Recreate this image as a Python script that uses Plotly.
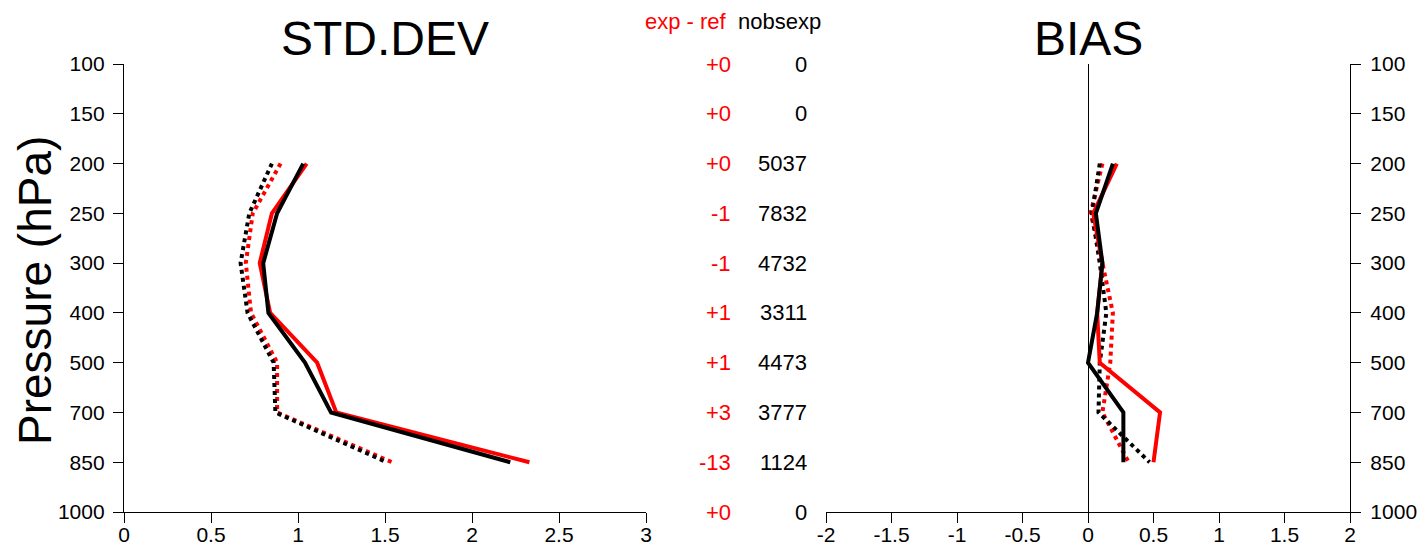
import plotly.graph_objects as go

levels = ["100", "150", "200", "250", "300", "400", "500", "700", "850", "1000"]
lev_idx = list(range(len(levels)))
plot_levels = ["200", "250", "300", "400", "500", "700", "850"]

std_exp = [1.05, 0.85, 0.78, 0.84, 1.11, 1.22, 2.33]
std_ref = [1.03, 0.88, 0.80, 0.83, 1.04, 1.19, 2.22]
std_exp_dot = [0.90, 0.74, 0.70, 0.73, 0.88, 0.88, 1.54]
std_ref_dot = [0.85, 0.72, 0.67, 0.71, 0.86, 0.87, 1.51]

bias_exp = [0.22, 0.04, 0.11, 0.07, 0.09, 0.55, 0.50]
bias_ref = [0.19, 0.06, 0.11, 0.07, 0.00, 0.27, 0.27]
bias_exp_dot = [0.11, 0.02, 0.11, 0.19, 0.17, 0.11, 0.31]
bias_ref_dot = [0.09, 0.03, 0.09, 0.14, 0.09, 0.08, 0.47]

diff_labels = ["+0", "+0", "+0", "-1", "-1", "+1", "+1", "+3", "-13", "+0"]
nobs_labels = ["0", "0", "5037", "7832", "4732", "3311", "4473", "3777", "1124", "0"]

std_ticks = [0, 0.5, 1, 1.5, 2, 2.5, 3]
std_ticktext = ["0", "0.5", "1", "1.5", "2", "2.5", "3"]
bias_ticks = [-2, -1.5, -1, -0.5, 0, 0.5, 1, 1.5, 2]
bias_ticktext = ["-2", "-1.5", "-1", "-0.5", "0", "0.5", "1", "1.5", "2"]

FONT = "Liberation Sans, Arial, Helvetica, sans-serif"
W, H = 1418, 545
ML, MR, MT, MB = 124, 68, 64, 33
PW = W - ML - MR
PH = H - MT - MB

def px2paper_x(px):
    return (px - ML) / PW

def px2paper_y(py):
    return 1 - (py - MT) / PH

ypos = [levels.index(l) for l in plot_levels]

fig = go.Figure()

def add(x, color, dash, xa, ya):
    fig.add_trace(go.Scatter(x=x, y=ypos, mode="lines", xaxis=xa, yaxis=ya,
                             line=dict(color=color, width=4, dash=dash),
                             showlegend=False, hoverinfo="skip"))

add(std_exp_dot, "red", "dot", "x", "y")
add(std_ref_dot, "black", "dot", "x", "y")
add(std_exp, "red", "solid", "x", "y")
add(std_ref, "black", "solid", "x", "y")

add(bias_exp_dot, "red", "dot", "x2", "y2")
add(bias_ref_dot, "black", "dot", "x2", "y2")
add(bias_exp, "red", "solid", "x2", "y2")
add(bias_ref, "black", "solid", "x2", "y2")

axis_common = dict(showline=True, linecolor="black", linewidth=1.3, ticks="outside",
                   ticklen=10, tickwidth=1.3, tickcolor="black", showgrid=False,
                   automargin=False,
                   tickfont=dict(family=FONT, size=21, color="black"))

x1_dom = [px2paper_x(124), px2paper_x(646)]
x2_dom = [px2paper_x(826), px2paper_x(1350)]

fig.update_layout(
    width=W, height=H,
    margin=dict(l=ML, r=MR, t=MT, b=MB),
    plot_bgcolor="white", paper_bgcolor="white",
    showlegend=False,
    xaxis=dict(domain=x1_dom, range=[0, 3], tickvals=std_ticks, ticktext=std_ticktext,
               anchor="y", zeroline=False, ticklabelstandoff=-6, **axis_common),
    yaxis=dict(domain=[0, 1], range=[9, 0], tickvals=lev_idx, ticktext=levels,
               anchor="x", zeroline=False, ticklabelstandoff=4, **axis_common),
    xaxis2=dict(domain=x2_dom, range=[-2, 2], tickvals=bias_ticks, ticktext=bias_ticktext,
                anchor="y2", zeroline=True, zerolinecolor="black", zerolinewidth=1.3,
                ticklabelstandoff=-6, **axis_common),
    yaxis2=dict(domain=[0, 1], range=[9, 0], tickvals=lev_idx, ticktext=levels,
                anchor="x2", side="right", zeroline=False, ticklabelstandoff=5,
                **axis_common),
)

ann = []
ann.append(dict(text="STD.DEV", xref="x", yref="paper", x=1.5, y=px2paper_y(38),
                xanchor="center", yanchor="middle", showarrow=False,
                font=dict(family=FONT, size=48, color="black")))
ann.append(dict(text="BIAS", xref="x2", yref="paper", x=0, y=px2paper_y(38),
                xanchor="center", yanchor="middle", showarrow=False,
                font=dict(family=FONT, size=48, color="black")))
ann.append(dict(text="Pressure (hPa)", xref="paper", yref="paper", x=px2paper_x(35),
                y=px2paper_y(291), xanchor="center", yanchor="middle", textangle=-90,
                showarrow=False, font=dict(family=FONT, size=46, color="black")))
ann.append(dict(text="exp - ref", xref="paper", yref="paper", x=px2paper_x(729),
                y=px2paper_y(21), xanchor="right", yanchor="middle", showarrow=False,
                font=dict(family=FONT, size=22, color="red")))
ann.append(dict(text="nobsexp", xref="paper", yref="paper", x=px2paper_x(736),
                y=px2paper_y(21), xanchor="left", yanchor="middle", showarrow=False,
                font=dict(family=FONT, size=22, color="black")))
for i in lev_idx:
    ann.append(dict(text=diff_labels[i], xref="paper", yref="y", x=px2paper_x(733),
                    y=i, xanchor="right", yanchor="middle", showarrow=False,
                    font=dict(family=FONT, size=22, color="red")))
    ann.append(dict(text=nobs_labels[i], xref="paper", yref="y", x=px2paper_x(809),
                    y=i, xanchor="right", yanchor="middle", showarrow=False,
                    font=dict(family=FONT, size=22, color="black")))
fig.update_layout(annotations=ann)

fig.write_html("out.html", config={"displayModeBar": False},
               post_script="document.body.style.margin='0';document.body.style.overflow='hidden';")
